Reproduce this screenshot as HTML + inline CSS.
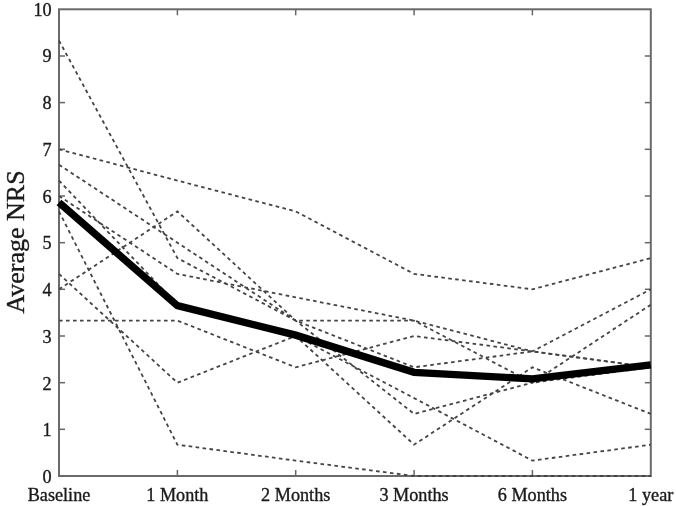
<!DOCTYPE html>
<html><head><meta charset="utf-8"><style>
html,body{margin:0;padding:0;background:#fff;}
svg{display:block;will-change:transform;}
text{font-family:"Liberation Serif", serif;font-size:18.2px;fill:#1a1a1a;stroke:#1a1a1a;stroke-width:0.35px;}
</style></head><body>
<svg width="676" height="506" viewBox="0 0 676 506">
<rect x="59.0" y="9.3" width="591.8" height="466.7" fill="none" stroke="#6a6a6a" stroke-width="2"/>
<line x1="177.4" y1="476.0" x2="177.4" y2="470.0" stroke="#666" stroke-width="1.5"/>
<line x1="177.4" y1="9.3" x2="177.4" y2="15.3" stroke="#666" stroke-width="1.5"/>
<line x1="295.7" y1="476.0" x2="295.7" y2="470.0" stroke="#666" stroke-width="1.5"/>
<line x1="295.7" y1="9.3" x2="295.7" y2="15.3" stroke="#666" stroke-width="1.5"/>
<line x1="414.1" y1="476.0" x2="414.1" y2="470.0" stroke="#666" stroke-width="1.5"/>
<line x1="414.1" y1="9.3" x2="414.1" y2="15.3" stroke="#666" stroke-width="1.5"/>
<line x1="532.4" y1="476.0" x2="532.4" y2="470.0" stroke="#666" stroke-width="1.5"/>
<line x1="532.4" y1="9.3" x2="532.4" y2="15.3" stroke="#666" stroke-width="1.5"/>
<line x1="59.0" y1="429.3" x2="65.0" y2="429.3" stroke="#666" stroke-width="1.5"/>
<line x1="650.8" y1="429.3" x2="644.8" y2="429.3" stroke="#666" stroke-width="1.5"/>
<line x1="59.0" y1="382.7" x2="65.0" y2="382.7" stroke="#666" stroke-width="1.5"/>
<line x1="650.8" y1="382.7" x2="644.8" y2="382.7" stroke="#666" stroke-width="1.5"/>
<line x1="59.0" y1="336.0" x2="65.0" y2="336.0" stroke="#666" stroke-width="1.5"/>
<line x1="650.8" y1="336.0" x2="644.8" y2="336.0" stroke="#666" stroke-width="1.5"/>
<line x1="59.0" y1="289.3" x2="65.0" y2="289.3" stroke="#666" stroke-width="1.5"/>
<line x1="650.8" y1="289.3" x2="644.8" y2="289.3" stroke="#666" stroke-width="1.5"/>
<line x1="59.0" y1="242.7" x2="65.0" y2="242.7" stroke="#666" stroke-width="1.5"/>
<line x1="650.8" y1="242.7" x2="644.8" y2="242.7" stroke="#666" stroke-width="1.5"/>
<line x1="59.0" y1="196.0" x2="65.0" y2="196.0" stroke="#666" stroke-width="1.5"/>
<line x1="650.8" y1="196.0" x2="644.8" y2="196.0" stroke="#666" stroke-width="1.5"/>
<line x1="59.0" y1="149.3" x2="65.0" y2="149.3" stroke="#666" stroke-width="1.5"/>
<line x1="650.8" y1="149.3" x2="644.8" y2="149.3" stroke="#666" stroke-width="1.5"/>
<line x1="59.0" y1="102.6" x2="65.0" y2="102.6" stroke="#666" stroke-width="1.5"/>
<line x1="650.8" y1="102.6" x2="644.8" y2="102.6" stroke="#666" stroke-width="1.5"/>
<line x1="59.0" y1="56.0" x2="65.0" y2="56.0" stroke="#666" stroke-width="1.5"/>
<line x1="650.8" y1="56.0" x2="644.8" y2="56.0" stroke="#666" stroke-width="1.5"/>
<polyline points="59.0,149.3 177.4,180.6 295.7,211.4 414.1,273.9 532.4,289.3 650.8,258.1" fill="none" stroke="#444" stroke-width="1.8" stroke-dasharray="3.6 3.4"/>
<polyline points="59.0,40.6 177.4,258.1 295.7,320.6 414.1,320.6 532.4,382.7 650.8,367.3" fill="none" stroke="#444" stroke-width="1.8" stroke-dasharray="3.6 3.4"/>
<polyline points="59.0,289.3 177.4,211.4 295.7,320.6 414.1,413.9 532.4,382.7 650.8,304.7" fill="none" stroke="#444" stroke-width="1.8" stroke-dasharray="3.6 3.4"/>
<polyline points="59.0,164.7 177.4,242.7 295.7,320.6 414.1,367.3 532.4,351.4 650.8,367.3" fill="none" stroke="#444" stroke-width="1.8" stroke-dasharray="3.6 3.4"/>
<polyline points="59.0,196.0 177.4,273.9 295.7,297.3 414.1,320.6 532.4,351.4 650.8,289.3" fill="none" stroke="#444" stroke-width="1.8" stroke-dasharray="3.6 3.4"/>
<polyline points="59.0,320.6 177.4,320.6 295.7,367.3 414.1,336.0 532.4,351.4 650.8,367.3" fill="none" stroke="#444" stroke-width="1.8" stroke-dasharray="3.6 3.4"/>
<polyline points="59.0,273.9 177.4,382.7 295.7,336.0 414.1,444.7 532.4,367.3 650.8,413.9" fill="none" stroke="#444" stroke-width="1.8" stroke-dasharray="3.6 3.4"/>
<polyline points="59.0,180.6 177.4,304.7 295.7,336.0 414.1,398.1 532.4,460.6 650.8,444.7" fill="none" stroke="#444" stroke-width="1.8" stroke-dasharray="3.6 3.4"/>
<polyline points="59.0,211.4 177.4,444.7 295.7,460.6 414.1,476.0 532.4,476.0 650.8,476.0" fill="none" stroke="#444" stroke-width="1.8" stroke-dasharray="3.6 3.4"/>
<polyline points="59.0,202.5 177.4,305.7 295.7,335.1 414.1,372.4 532.4,378.9 650.8,364.9" fill="none" stroke="#000" stroke-width="7.4" stroke-linejoin="miter"/>
<text x="51.7" y="483.2" text-anchor="end">0</text>
<text x="51.7" y="436.4" text-anchor="end">1</text>
<text x="51.7" y="389.7" text-anchor="end">2</text>
<text x="51.7" y="342.9" text-anchor="end">3</text>
<text x="51.7" y="296.1" text-anchor="end">4</text>
<text x="51.7" y="249.3" text-anchor="end">5</text>
<text x="51.7" y="202.6" text-anchor="end">6</text>
<text x="51.7" y="155.8" text-anchor="end">7</text>
<text x="51.7" y="109.0" text-anchor="end">8</text>
<text x="51.7" y="62.3" text-anchor="end">9</text>
<text x="51.7" y="15.5" text-anchor="end">10</text>
<text x="59.0" y="500.5" text-anchor="middle">Baseline</text>
<text x="177.4" y="500.5" text-anchor="middle">1 Month</text>
<text x="295.7" y="500.5" text-anchor="middle">2 Months</text>
<text x="414.1" y="500.5" text-anchor="middle">3 Months</text>
<text x="532.4" y="500.5" text-anchor="middle">6 Months</text>
<text x="650.8" y="500.5" text-anchor="middle">1 year</text>
<text transform="translate(23.7,242) rotate(-90)" text-anchor="middle" style="font-size:26px">Average NRS</text>
</svg>
</body></html>
